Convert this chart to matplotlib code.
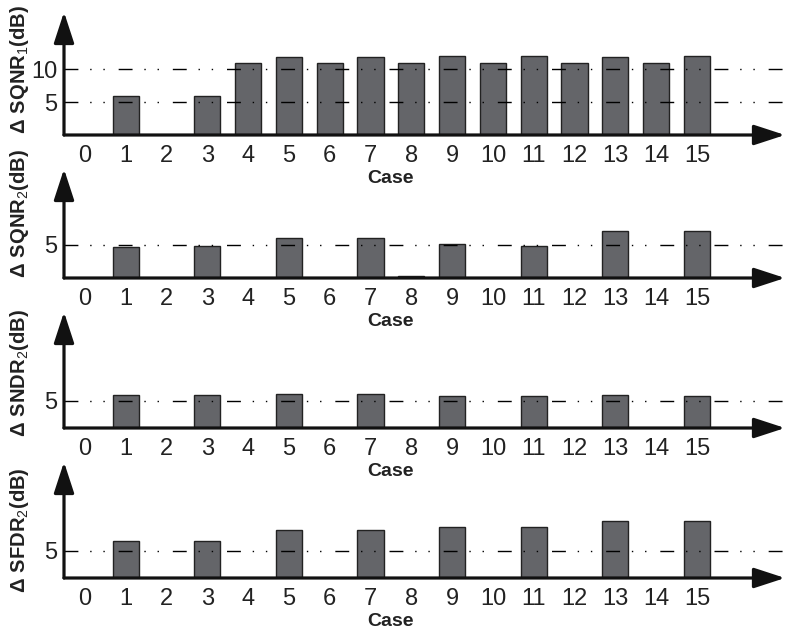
import numpy as np
import matplotlib
matplotlib.use('Agg')
import matplotlib.pyplot as plt

plt.rcParams['font.family'] = ['Liberation Sans', 'DejaVu Sans']
plt.rcParams['mathtext.fontset'] = 'custom'
plt.rcParams['mathtext.rm'] = 'Liberation Sans'
plt.rcParams['mathtext.bf'] = 'Liberation Sans:bold'

cases = np.arange(16)
case_labels = [str(c) for c in cases]

sqnr1 = [0, 6.0, 0, 6.0, 10.9, 11.8, 10.9, 11.8, 10.9, 12.0, 10.9, 12.0, 11.0, 11.8, 11.0, 12.0]
sqnr2 = [0, 4.6, 0, 4.85, 0, 5.95, 0, 5.95, 0.25, 5.1, 0, 4.85, 0, 7.0, 0, 7.0]
sndr2 = [0, 6.1, 0, 6.1, 0, 6.2, 0, 6.2, 0, 5.8, 0, 5.85, 0, 6.1, 0, 5.85]
sfdr2 = [0, 6.7, 0, 6.7, 0, 8.7, 0, 8.7, 0, 9.3, 0, 9.3, 0, 10.5, 0, 10.5]

series = [sqnr1, sqnr2, sndr2, sfdr2]
ylabels = [r'$\mathbf{Δ\ SQNR}_{\mathrm{1}}\mathbf{(dB)}$',
           r'$\mathbf{Δ\ SQNR}_{\mathrm{2}}\mathbf{(dB)}$',
           r'$\mathbf{Δ\ SNDR}_{\mathrm{2}}\mathbf{(dB)}$',
           r'$\mathbf{Δ\ SFDR}_{\mathrm{2}}\mathbf{(dB)}$']
yticks = [[5, 10], [5], [5], [5]]
ymax = [18.7, 16.3, 21.2, 21.2]

# layout in pixels: (baseline y, arrow tip y, ylabel center as axes fraction)
W, H = 785, 632
panels = [(135, 12, 0.53), (278, 169, 0.59), (428, 312, 0.47), (578, 462, 0.41)]
left_px = 64

tick_font = ['Liberation Sans Narrow', 'Liberation Sans', 'DejaVu Sans']
dash = (0, (10, 8.5, 1, 8.5, 1, 10))

fig = plt.figure(figsize=(W / 100, H / 100), dpi=100)

for vals, lab, yt, ym, (base, top, lc) in zip(series, ylabels, yticks, ymax, panels):
    ax = fig.add_axes([left_px / W, (H - base) / H, (W - left_px) / W, (base - top) / H])
    ax.patch.set_visible(False)
    ax.set_xlim(-0.515, 17.16)
    ax.set_ylim(0, ym)
    for s in ax.spines.values():
        s.set_visible(False)

    ax.bar(cases, vals, width=0.64, color='#646569', edgecolor='#222222',
           linewidth=1, zorder=2)
    for y in yt:
        ax.axhline(y, color='k', lw=1, linestyle=dash, zorder=3)

    arrow = dict(arrowstyle='-|>,head_length=1.9,head_width=0.62', lw=2.3,
                 color='#111111', mutation_scale=10, shrinkA=0, shrinkB=0)
    ax.annotate('', xy=(0, 1), xytext=(0, 0), xycoords='axes fraction',
                arrowprops=arrow, zorder=5)
    ax.annotate('', xy=(1, 0), xytext=(0, 0), xycoords='axes fraction',
                arrowprops=arrow, zorder=5)

    ax.set_xticks(cases)
    ax.set_xticklabels(case_labels, fontfamily=tick_font, fontsize=17, color='#222222')
    ax.set_yticks(yt)
    ax.set_yticklabels([str(v) for v in yt], fontfamily=tick_font, fontsize=17,
                       color='#222222')
    ax.tick_params(axis='x', length=0, pad=7)
    ax.tick_params(axis='y', length=0, pad=5)

    ax.annotate('Case', xy=(7.5, 0), xycoords=('data', 'axes fraction'),
                xytext=(0, -31), textcoords='offset points', ha='center',
                va='center', fontsize=14, fontweight='bold', color='#222222',
                annotation_clip=False)
    ax.text((20 - left_px) / (W - left_px), lc, lab, transform=ax.transAxes,
            rotation=90, ha='center', va='center', rotation_mode='anchor',
            fontsize=14.5, color='#222222')

fig.savefig('out.png', dpi=100)
